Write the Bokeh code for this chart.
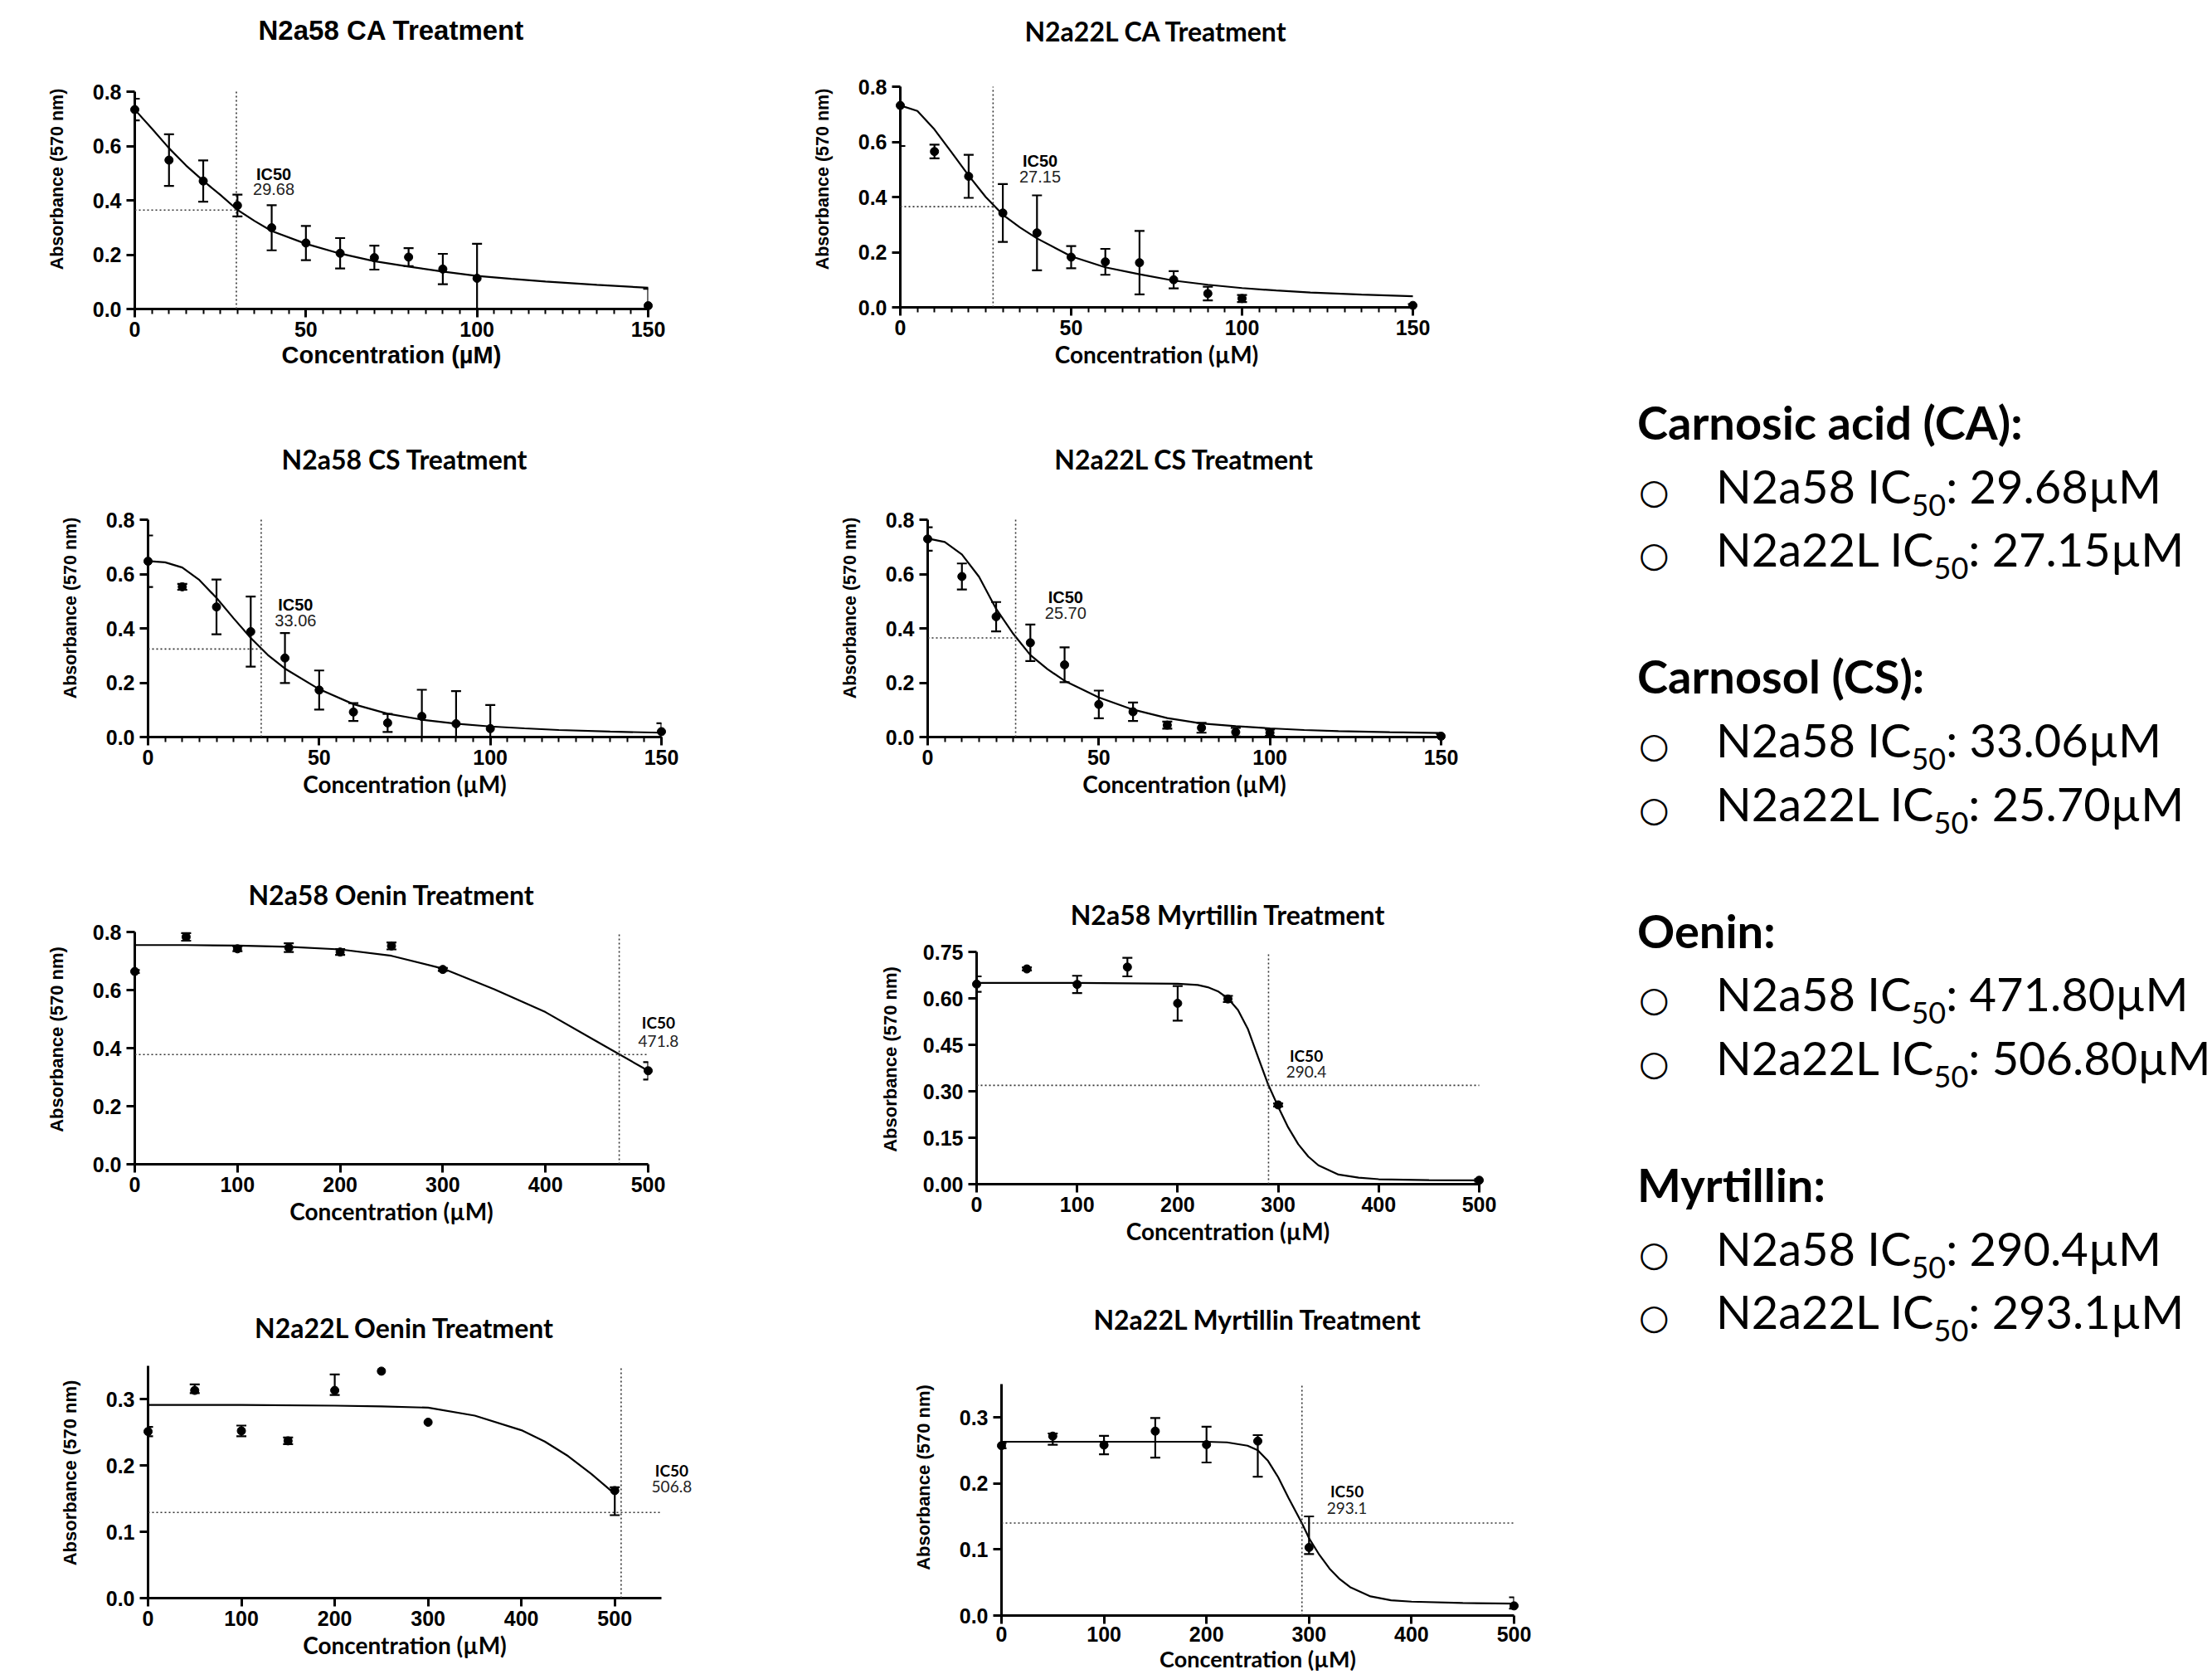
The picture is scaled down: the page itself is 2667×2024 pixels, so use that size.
from bokeh.plotting import figure
from bokeh.models import (Range1d, FixedTicker, Whisker, ColumnDataSource, TeeHead,
                          Title, Div, Spacer, PrintfTickFormatter)
from bokeh.layouts import row, column
from bokeh.embed import file_html
from bokeh.resources import INLINE
from bokeh.core.properties import value

# ------------------------------------------------------------------ data
CONC_CA_CS = [0, 10, 20, 30, 40, 50, 60, 70, 80, 90, 100, 150]
CONC_ANTHO = [0, 50, 100, 150, 200, 250, 300, 500]

# N2a58 CA
CA58_MEAN = [0.734, 0.548, 0.471, 0.381, 0.299, 0.243, 0.205, 0.189, 0.191, 0.147, 0.113, 0.012]
CA58_SEM = [0.040, 0.095, 0.076, 0.040, 0.083, 0.063, 0.056, 0.044, 0.033, 0.056, 0.127, 0.062]
CA58_FIT_X = [0, 5, 10, 15, 20, 25, 30, 35, 40, 50, 60, 70, 80, 90, 100, 110, 120, 135, 150]
CA58_FIT_Y = [0.734, 0.664, 0.592, 0.528, 0.472, 0.420, 0.365, 0.324, 0.287, 0.240, 0.204, 0.176,
              0.156, 0.138, 0.122, 0.111, 0.101, 0.089, 0.078]
CA58_HALF = 0.364

# N2a22L CA
CA22_MEAN = [0.732, 0.565, 0.475, 0.342, 0.270, 0.182, 0.165, 0.162, 0.100, 0.050, 0.032, 0.007]
CA22_SEM = [0.147, 0.025, 0.078, 0.105, 0.136, 0.040, 0.047, 0.115, 0.031, 0.025, 0.013, 0.005]
CA22_FIT_X = [0, 5, 10, 15, 20, 25, 30, 35, 40, 50, 60, 70, 80, 90, 100, 110, 120, 135, 150]
CA22_FIT_Y = [0.732, 0.712, 0.645, 0.562, 0.478, 0.400, 0.336, 0.290, 0.250, 0.185, 0.145, 0.120,
              0.097, 0.082, 0.070, 0.061, 0.054, 0.046, 0.040]
CA22_HALF = 0.365

# N2a58 CS
CS58_MEAN = [0.647, 0.553, 0.479, 0.388, 0.291, 0.173, 0.092, 0.052, 0.076, 0.049, 0.031, 0.020]
CS58_SEM = [0.095, 0.011, 0.101, 0.129, 0.092, 0.072, 0.033, 0.033, 0.098, 0.120, 0.087, 0.031]
CS58_FIT_X = [0, 5, 10, 15, 20, 25, 30, 35, 40, 50, 60, 70, 80, 90, 100, 110, 120, 135, 150]
CS58_FIT_Y = [0.648, 0.643, 0.624, 0.578, 0.512, 0.437, 0.365, 0.302, 0.252, 0.176, 0.121, 0.086,
              0.064, 0.049, 0.039, 0.032, 0.026, 0.020, 0.016]
CS58_HALF = 0.324

# N2a22L CS
CS22_MEAN = [0.729, 0.591, 0.443, 0.347, 0.266, 0.120, 0.093, 0.044, 0.034, 0.018, 0.016, 0.003]
CS22_SEM = [0.043, 0.048, 0.054, 0.067, 0.064, 0.051, 0.034, 0.013, 0.018, 0.016, 0.012, 0.008]
CS22_FIT_X = [0, 5, 10, 15, 20, 25, 30, 35, 40, 50, 60, 70, 80, 90, 100, 110, 120, 135, 150]
CS22_FIT_Y = [0.731, 0.718, 0.672, 0.590, 0.472, 0.380, 0.302, 0.250, 0.207, 0.146, 0.101, 0.070,
              0.050, 0.040, 0.032, 0.026, 0.022, 0.018, 0.015]
CS22_HALF = 0.365

# N2a58 Oenin
OEN58_MEAN = [0.664, 0.783, 0.742, 0.746, 0.731, 0.752, 0.671, 0.322]
OEN58_SEM = [0.005, 0.013, 0.008, 0.015, 0.010, 0.012, 0.005, 0.030]
OEN58_FIT_X = [0, 50, 100, 150, 200, 250, 300, 350, 400, 450, 500]
OEN58_FIT_Y = [0.755, 0.755, 0.753, 0.749, 0.740, 0.718, 0.674, 0.603, 0.524, 0.423, 0.322]
OEN58_HALF = 0.378

# N2a58 Myrtillin
MYR58_MEAN = [0.646, 0.695, 0.645, 0.701, 0.584, 0.598, 0.256, 0.0125]
MYR58_SEM = [0.025, 0.005, 0.028, 0.030, 0.056, 0.010, 0.005, 0.004]
MYR58_FIT_X = [0, 100, 200, 220, 230, 240, 250, 260, 270, 280, 290, 300, 310, 320, 330, 340,
               360, 380, 400, 450, 500]
MYR58_FIT_Y = [0.650, 0.650, 0.647, 0.643, 0.636, 0.623, 0.600, 0.5625, 0.500, 0.410, 0.322,
               0.250, 0.183, 0.129, 0.089, 0.061, 0.031, 0.021, 0.016, 0.013, 0.0125]
MYR58_HALF = 0.319

# N2a22L Oenin
OEN22_MEAN = [0.251, 0.313, 0.252, 0.237, 0.313, 0.342, 0.265, 0.162]
OEN22_ERR_UP = [0.007, 0.009, 0.008, 0.005, 0.024, 0.0, 0.0, 0.005]
OEN22_ERR_DN = [0.007, 0.004, 0.008, 0.005, 0.007, 0.0, 0.0, 0.037]
OEN22_FIT_X = [0, 100, 200, 250, 300, 350, 400, 425, 450, 475, 500]
OEN22_FIT_Y = [0.291, 0.291, 0.290, 0.289, 0.287, 0.275, 0.253, 0.236, 0.214, 0.187, 0.157]
OEN22_HALF = 0.129

# N2a22L Myrtillin
MYR22_MEAN = [0.257, 0.2715, 0.258, 0.279, 0.2586, 0.264, 0.103, 0.0146]
MYR22_ERR_UP = [0.004, 0.004, 0.014, 0.020, 0.027, 0.009, 0.047, 0.013]
MYR22_ERR_DN = [0.004, 0.013, 0.014, 0.040, 0.027, 0.054, 0.010, 0.004]
MYR22_FIT_X = [0, 100, 200, 220, 240, 250, 260, 270, 280, 293, 300, 310, 320, 330, 340, 360,
               380, 400, 450, 500]
MYR22_FIT_Y = [0.263, 0.263, 0.263, 0.262, 0.257, 0.250, 0.234, 0.209, 0.178, 0.140, 0.117,
               0.092, 0.071, 0.055, 0.043, 0.029, 0.023, 0.021, 0.019, 0.018]
MYR22_HALF = 0.140

# IC50 values (µM)
CA_IC50 = [29.68, 27.15]
CS_IC50 = [33.06, 25.70]
OEN_IC50 = [471.8, 506.8]
MYR_IC50 = [290.4, 293.1]
IC50_LABELS = ["29.68", "27.15", "33.06", "25.70", "471.8", "290.4", "506.8", "293.1"]

# tick values
X_TICKS_CA = [0, 50, 100, 150]
X_MINOR_CA = list(range(0, 151, 5))
X_TICKS_ANTHO = [0, 100, 200, 300, 400, 500]
Y_TICKS_08 = [0.0, 0.2, 0.4, 0.6, 0.8]
Y_TICKS_075 = [0.0, 0.15, 0.30, 0.45, 0.60, 0.75]
Y_TICKS_03 = [0.0, 0.1, 0.2, 0.3]

# summary text
SUMMARY_COMPOUNDS = ["Carnosic acid (CA):", "Carnosol (CS):", "Oenin:", "Myrtillin:"]
SUMMARY_LINES = ["N2a58", "N2a22L"]
SUMMARY_IC50 = [["29.68", "27.15"], ["33.06", "25.70"], ["471.80", "506.80"], ["290.4", "293.1"]]

ARIAL = "Liberation Sans"
CALIBRI = "Lato"
TITLE_STANDOFF = 10


def make_panel(cfg, x, y, e_up, e_dn, fx, fy, ic50, half, ic_txt):
    cx0, cy0, cx1, cy1 = cfg["cell"]
    px0, px1 = cfg["px"]
    py0, py1 = cfg["py"]
    xmax, ymax = cfg["xmax"], cfg["ymax"]
    xend, yend = cfg["xend"], cfg["yend"]
    sx = (px1 - px0) / xmax
    sy = (py0 - py1) / ymax
    fs = cfg["title_size"]
    fl = int(round(px0))
    fr = int(round(px0 + xend * sx))
    fb = int(round(py0))
    ft = int(round(cfg["title_y"] + 0.59 * fs + TITLE_STANDOFF / 2))
    xr = Range1d(0, xend)
    yr = Range1d(0, (fb - ft) / sy)
    p = figure(width=cx1 - cx0, height=cy1 - cy0, x_range=xr, y_range=yr,
               output_backend="svg", toolbar_location=None,
               min_border_left=fl - cx0, min_border_right=cx1 - fr,
               min_border_top=ft - cy0, min_border_bottom=cy1 - fb)
    p.background_fill_color = "white"
    p.border_fill_color = "white"
    p.outline_line_color = None
    p.xgrid.visible = False
    p.ygrid.visible = False

    p.title = Title(text=cfg["title"], align="center", standoff=TITLE_STANDOFF,
                    text_font=cfg["title_font"], text_font_size=f"{fs}px",
                    text_font_style="bold", text_color="black")

    xa = p.xaxis[0]
    ya = p.yaxis[0]
    for ax in (xa, ya):
        ax.axis_line_width = 3
        ax.axis_line_color = "black"
        ax.major_tick_line_width = 3
        ax.major_tick_line_color = "black"
        ax.major_tick_out = 10
        ax.major_tick_in = 0
        ax.minor_tick_line_width = 2
        ax.minor_tick_line_color = "black"
        ax.minor_tick_out = 6
        ax.minor_tick_in = 0
        ax.major_label_text_font = ARIAL
        ax.major_label_text_font_style = "bold"
        ax.major_label_text_font_size = "25px"
        ax.major_label_text_color = "black"
        ax.axis_label_text_font_style = "bold"
        ax.axis_label_text_color = "black"
    xa.major_label_standoff = cfg.get("xls", 5)
    ya.major_label_standoff = 6
    xa.bounds = (0, xend)
    ya.bounds = (0, yend)
    xa.ticker = FixedTicker(ticks=cfg["xticks"], minor_ticks=cfg.get("xminor", []))
    ya.ticker = FixedTicker(ticks=cfg["yticks"], minor_ticks=[])
    ya.formatter = PrintfTickFormatter(format=cfg["yfmt"])
    xa.axis_label = "Concentration (µM)"
    xa.axis_label_text_font = cfg["lab_font"]
    xa.axis_label_text_font_size = f"{cfg['lab_size']}px"
    xa.axis_label_standoff = cfg.get("xlab_standoff", 3)
    ya.axis_label = "Absorbance (570 nm)"
    ya.axis_label_text_font = ARIAL
    ya.axis_label_text_font_size = f"{cfg['ylab_size']}px"
    ya.axis_label_standoff = cfg.get("ylab_standoff", 28)

    lvl = "overlay"
    # fitted curve
    p.line(fx, fy, line_color="black", line_width=2.2, level=lvl)
    # IC50 guides
    hend = cfg["hend"] if cfg["hend"] is not None else ic50
    p.line([0, hend], [half, half], line_dash="2 3", line_color="#333333", line_width=1.6,
           level=lvl)
    p.line([ic50, ic50], [0, yend], line_dash="2 3", line_color="#333333", line_width=1.6,
           level=lvl)

    # error bars (bars that leave the axis range are cut at its top, as in the original)
    def head():
        return TeeHead(size=12, line_width=2.2, line_color="black")
    inside = [i for i in range(len(x)) if (e_up[i] + e_dn[i]) > 0 and y[i] + e_up[i] <= yend]
    over = [i for i in range(len(x)) if (e_up[i] + e_dn[i]) > 0 and y[i] + e_up[i] > yend]
    for idx, top_head in ((inside, head()), (over, None)):
        if not idx:
            continue
        src = ColumnDataSource(dict(
            x=[x[i] for i in idx],
            up=[min(y[i] + e_up[i], yend) for i in idx],
            dn=[y[i] - e_dn[i] for i in idx]))
        w = Whisker(source=src, base="x", upper="up", lower="dn", dimension="height",
                    line_color="black", line_width=2.2, level=lvl,
                    upper_head=top_head, lower_head=head())
        p.add_layout(w)
    p.scatter(x, y, size=10, color="black", level=lvl)

    ix, iy1, iy2 = cfg["ic_pos"]
    p.text(x=[ix], y=[iy1], text=["IC50"], text_font=value(cfg["ic_font"]),
           text_font_style="bold", text_font_size=f"{cfg['ic_size']}px",
           text_align="center", text_baseline="middle", text_color="black", level=lvl)
    p.text(x=[ix], y=[iy2], text=[ic_txt], text_font=value(cfg["ic_font"]),
           text_font_style="normal", text_font_size=f"{cfg['ic_size']}px",
           text_align="center", text_baseline="middle", text_color="#222222", level=lvl)
    return p


base_ca = dict(xmax=150, ymax=0.8, xend=150, yend=0.8, xticks=X_TICKS_CA, xminor=X_MINOR_CA,
               yticks=Y_TICKS_08, yfmt="%.1f", ylab_size=21.5, ic_font=ARIAL, ic_size=20)
base_an = dict(xmax=500, xend=500, xticks=X_TICKS_ANTHO, ylab_size=22, ic_font=CALIBRI,
               ic_size=19, hend=500)

cfg1 = dict(base_ca, title="N2a58 CA Treatment", cell=(0, 0, 920, 520), px=(162, 781),
            py=(372, 110), title_y=35, title_font=ARIAL, title_size=33, lab_font=ARIAL,
            lab_size=29, ic_pos=(40.6, 0.496, 0.440), hend=None)
cfg2 = dict(base_ca, title="N2a22L CA Treatment", cell=(920, 0, 1960, 520), px=(1085, 1703),
            py=(370, 104), title_y=37, title_font=CALIBRI, title_size=32, lab_font=CALIBRI,
            lab_size=28, ic_pos=(40.9, 0.530, 0.475), hend=None)
cfg3 = dict(base_ca, title="N2a58 CS Treatment", cell=(0, 520, 920, 1040), px=(178, 797),
            py=(888, 626), title_y=553, title_font=CALIBRI, title_size=32, lab_font=CALIBRI,
            lab_size=28, ic_pos=(43.1, 0.487, 0.428), hend=None)
cfg4 = dict(base_ca, title="N2a22L CS Treatment", cell=(920, 520, 1960, 1040), px=(1118, 1737),
            py=(888, 626), title_y=553, title_font=CALIBRI, title_size=32, lab_font=CALIBRI,
            lab_size=28, ic_pos=(40.3, 0.515, 0.455), hend=None)
cfg5 = dict(base_an, title="N2a58 Oenin Treatment", cell=(0, 1040, 920, 1560), px=(162, 781),
            py=(1403, 1123), ymax=0.8, yend=0.8, yticks=Y_TICKS_08, yfmt="%.1f",
            title_y=1078, title_font=CALIBRI, title_size=32, lab_font=CALIBRI, lab_size=28,
            ic_pos=(510, 0.489, 0.423))
cfg6 = dict(base_an, title="N2a58 Myrtillin Treatment", cell=(920, 1040, 1960, 1562),
            px=(1177, 1783), py=(1427, 1147), ymax=0.75, yend=0.75, yticks=Y_TICKS_075,
            yfmt="%.2f", title_y=1102, title_font=CALIBRI, title_size=32, lab_font=CALIBRI,
            lab_size=28, ic_pos=(328, 0.415, 0.362), ylab_standoff=24)
cfg7 = dict(base_an, title="N2a22L Oenin Treatment", cell=(0, 1560, 920, 2022), px=(178, 741),
            py=(1926, 1686), ymax=0.3, yend=0.35, xend=550, yticks=Y_TICKS_03, yfmt="%.1f",
            hend=550, title_y=1600, title_font=CALIBRI, title_size=32,
            lab_font=CALIBRI, lab_size=28, ic_pos=(561, 0.193, 0.168))
cfg8 = dict(base_an, title="N2a22L Myrtillin Treatment", cell=(920, 1562, 1960, 2022),
            px=(1207, 1825), py=(1947, 1708), ymax=0.3, yend=0.35, yticks=Y_TICKS_03,
            yfmt="%.1f", title_y=1590, title_font=CALIBRI, title_size=32, lab_font=CALIBRI,
            lab_size=27, ic_pos=(337, 0.188, 0.163), xlab_standoff=1, xls=3)

p1 = make_panel(cfg1, CONC_CA_CS, CA58_MEAN, CA58_SEM, CA58_SEM, CA58_FIT_X, CA58_FIT_Y,
                CA_IC50[0], CA58_HALF, IC50_LABELS[0])
p2 = make_panel(cfg2, CONC_CA_CS, CA22_MEAN, CA22_SEM, CA22_SEM, CA22_FIT_X, CA22_FIT_Y,
                CA_IC50[1], CA22_HALF, IC50_LABELS[1])
p3 = make_panel(cfg3, CONC_CA_CS, CS58_MEAN, CS58_SEM, CS58_SEM, CS58_FIT_X, CS58_FIT_Y,
                CS_IC50[0], CS58_HALF, IC50_LABELS[2])
p4 = make_panel(cfg4, CONC_CA_CS, CS22_MEAN, CS22_SEM, CS22_SEM, CS22_FIT_X, CS22_FIT_Y,
                CS_IC50[1], CS22_HALF, IC50_LABELS[3])
p5 = make_panel(cfg5, CONC_ANTHO, OEN58_MEAN, OEN58_SEM, OEN58_SEM, OEN58_FIT_X, OEN58_FIT_Y,
                OEN_IC50[0], OEN58_HALF, IC50_LABELS[4])
p6 = make_panel(cfg6, CONC_ANTHO, MYR58_MEAN, MYR58_SEM, MYR58_SEM, MYR58_FIT_X, MYR58_FIT_Y,
                MYR_IC50[0], MYR58_HALF, IC50_LABELS[5])
p7 = make_panel(cfg7, CONC_ANTHO, OEN22_MEAN, OEN22_ERR_UP, OEN22_ERR_DN, OEN22_FIT_X,
                OEN22_FIT_Y, OEN_IC50[1], OEN22_HALF, IC50_LABELS[6])
p8 = make_panel(cfg8, CONC_ANTHO, MYR22_MEAN, MYR22_ERR_UP, MYR22_ERR_DN, MYR22_FIT_X,
                MYR22_FIT_Y, MYR_IC50[1], MYR22_HALF, IC50_LABELS[7])

# ------------------------------------------------------------------ summary text
LH = 76.6
html = ['<div style="font-family:Lato, sans-serif;color:#000;padding-left:9px;">']
for gi, (comp, vals) in enumerate(zip(SUMMARY_COMPOUNDS, SUMMARY_IC50)):
    if gi > 0:
        html.append('<div style="height:%spx"></div>' % LH)
    html.append('<div style="height:%spx;line-height:%spx;font-size:56px;font-weight:700;'
                'white-space:nowrap">%s</div>' % (LH, LH, comp))
    for cl, v in zip(SUMMARY_LINES, vals):
        html.append(
            '<div style="height:%spx;line-height:%spx;font-size:56px;font-weight:400;'
            'white-space:nowrap">'
            '<span style="display:inline-block;width:95px;padding-left:2px;box-sizing:border-box;'
            'font-size:42px;line-height:1;font-family:\'DejaVu Sans\'">&#9675;</span>'
            '%s IC<span style="font-size:36px;position:relative;top:15px;line-height:1">50</span>'
            ': %s&micro;M</div>' % (LH, LH, cl, v))
html.append('</div>')

TEXT_W = 704
TEXT_TOP = 466
div = Div(text="".join(html), width=TEXT_W, height=2022 - TEXT_TOP,
          styles={"overflow": "hidden", "white-space": "nowrap"})

left = column(row(p1), row(p3), row(p5), row(p7))
mid = column(row(p2), row(p4), row(p6), row(p8))
right = column(Spacer(width=TEXT_W, height=TEXT_TOP), div)
layout = row(left, mid, right)

open("out.html", "w").write(file_html(layout, INLINE))
